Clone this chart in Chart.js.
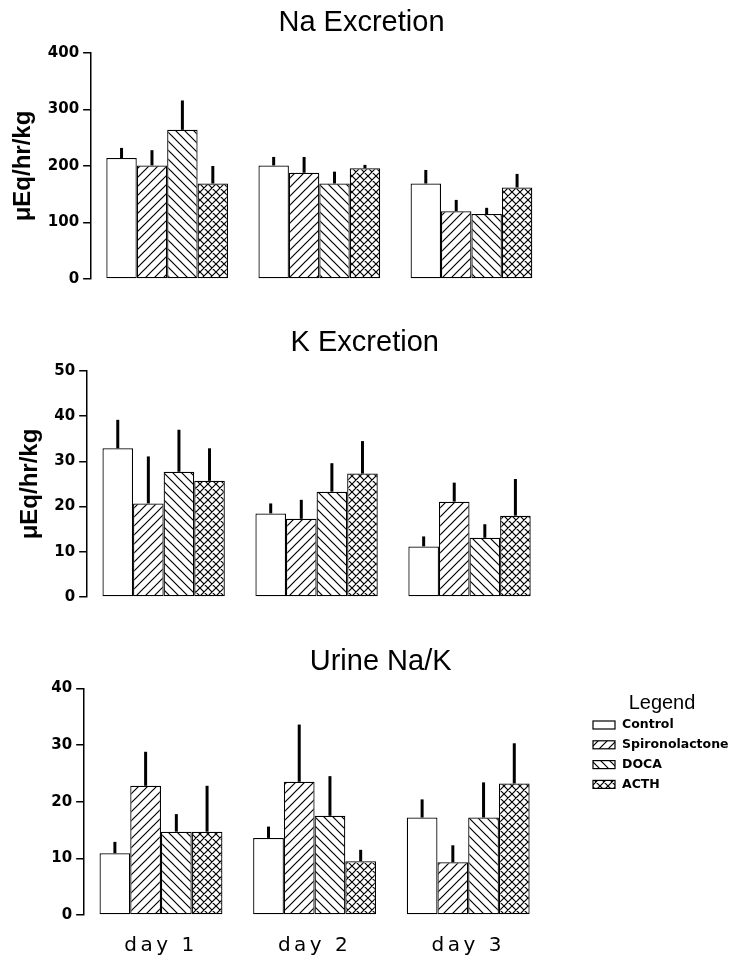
<!DOCTYPE html>
<html>
<head>
<meta charset="utf-8">
<title>Na and K excretion, urine Na/K</title>
<script src="https://cdn.jsdelivr.net/npm/chart.js@4.4.0/dist/chart.umd.min.js"></script>
<style>
  body { margin: 0; background: #fff; overflow: hidden; }
  #figure { position: relative; width: 730px; height: 959px; overflow: hidden; }
  #figure canvas { position: absolute; left: 0; }
</style>
</head>
<body>
<div id="figure">
  <canvas id="naChart" width="730" height="292" style="top:0"></canvas>
  <canvas id="kChart" width="730" height="310" style="top:300px"></canvas>
  <canvas id="ratioChart" width="730" height="367" style="top:610px"></canvas>
</div>
<script>
const days = ['day 1', 'day 2', 'day 3'];
const groups = ['Control', 'Spironolactone', 'DOCA', 'ACTH'];

// Na excretion (µEq/hr/kg), mean and SEM per group
const naControl = [214, 201, 169];
const naSpiro = [201, 188, 120];
const naDoca = [264, 169, 115];
const naActh = [169, 196, 162];
const naControlSem = [18, 15, 24];
const naSpiroSem = [27, 28, 20];
const naDocaSem = [52, 21, 11];
const naActhSem = [31, 6, 24];
const naTicks = [0, 100, 200, 300, 400];

// K excretion (µEq/hr/kg)
const kControl = [32.9, 18.5, 11.2];
const kSpiro = [20.7, 17.3, 21.1];
const kDoca = [27.7, 23.3, 13.1];
const kActh = [25.7, 27.3, 18.0];
const kControlSem = [6.3, 2.2, 2.2];
const kSpiroSem = [10.4, 4.2, 4.2];
const kDocaSem = [9.3, 6.3, 3.0];
const kActhSem = [7.2, 7.2, 8.1];
const kTicks = [0, 10, 20, 30, 40, 50];

// urine Na/K
const ratioControl = [10.9, 13.6, 17.2];
const ratioSpiro = [22.8, 23.5, 9.3];
const ratioDoca = [14.7, 17.5, 17.2];
const ratioActh = [14.7, 9.5, 23.2];
const ratioControlSem = [2.0, 2.0, 3.2];
const ratioSpiroSem = [6.0, 10.1, 3.0];
const ratioDocaSem = [3.1, 7.0, 6.2];
const ratioActhSem = [8.1, 2.0, 7.1];
const ratioTicks = [0, 10, 20, 30, 40];

Chart.defaults.color = '#000';
Chart.defaults.font.family = '"DejaVu Sans", sans-serif';

// hatch fills: '/' , '\' or 'x'
function hatch(kind, size) {
    const c = document.createElement('canvas');
    c.width = size;
    c.height = size;
    const g = c.getContext('2d');
    g.fillStyle = '#fff';
    g.fillRect(0, 0, size, size);
    g.strokeStyle = '#000';
    g.lineWidth = 1.2;
    g.beginPath();
    if (kind === '/' || kind === 'x') {
        g.moveTo(0, size); g.lineTo(size, 0);
        g.moveTo(-1, 1); g.lineTo(1, -1);
        g.moveTo(size - 1, size + 1); g.lineTo(size + 1, size - 1);
    }
    if (kind === '\\' || kind === 'x') {
        g.moveTo(0, 0); g.lineTo(size, size);
        g.moveTo(-1, size - 1); g.lineTo(1, size + 1);
        g.moveTo(size - 1, -1); g.lineTo(size + 1, 1);
    }
    g.stroke();
    return g.createPattern(c, 'repeat');
}

const fills = ['#fff', hatch('/', 9), hatch('\\', 9), hatch('x', 8)];

// upper error bar only, thick black line
const errorBars = {
    id: 'errorBars',
    afterDatasetsDraw(chart) {
        const ctx = chart.ctx;
        const y = chart.scales.y;
        ctx.save();
        ctx.strokeStyle = '#000';
        ctx.lineWidth = 3;
        chart.data.datasets.forEach((ds, i) => {
            chart.getDatasetMeta(i).data.forEach((bar, j) => {
                const top = y.getPixelForValue(ds.data[j] + ds.sem[j]);
                ctx.beginPath();
                ctx.moveTo(bar.x, bar.y);
                ctx.lineTo(bar.x, top);
                ctx.stroke();
            });
        });
        ctx.restore();
    }
};

// legend block drawn from the datasets
const legendBox = {
    id: 'legendBox',
    afterDraw(chart, args, opts) {
        const ctx = chart.ctx;
        ctx.save();
        ctx.fillStyle = '#000';
        ctx.textBaseline = 'middle';
        ctx.textAlign = 'center';
        ctx.font = '20px "Liberation Sans"';
        ctx.fillText(opts.title, opts.titleX, opts.titleY);
        ctx.textAlign = 'left';
        ctx.font = 'bold 12.5px "DejaVu Sans"';
        ctx.lineWidth = 1.2;
        ctx.strokeStyle = '#000';
        chart.data.datasets.forEach((ds, i) => {
            const y = opts.rowY + i * opts.rowGap;
            ctx.fillStyle = ds.backgroundColor;
            ctx.fillRect(opts.boxX, y - 4, 22, 8);
            ctx.strokeRect(opts.boxX, y - 4, 22, 8);
            ctx.fillStyle = '#000';
            ctx.fillText(ds.label, opts.boxX + 29, y);
        });
        ctx.restore();
    }
};

// wider letter spacing for the day labels
const spacedLabels = {
    id: 'spacedLabels',
    afterLayout(chart) {
        const x = chart.scales.x;
        if (x._spaced) return;
        const orig = x.drawLabels;
        x.drawLabels = function(area) {
            this.ctx.save();
            this.ctx.letterSpacing = '3.5px';
            orig.call(this, area);
            this.ctx.restore();
        };
        x._spaced = true;
    }
};

function drawPanel(id, title, means, sems, ticks, yTitle, lay) {
    const datasets = groups.map((g, i) => ({
        label: g,
        data: means[i],
        sem: sems[i],
        backgroundColor: fills[i],
        borderColor: '#000',
        borderWidth: 1.25,
        borderSkipped: false,
        barPercentage: 1,
        categoryPercentage: 0.8
    }));
    const plugins = [errorBars];
    if (lay.legend) plugins.push(legendBox);
    if (lay.showDays) plugins.push(spacedLabels);

    return new Chart(document.getElementById(id), {
        type: 'bar',
        data: { labels: days, datasets: datasets },
        options: {
            responsive: false,
            animation: false,
            layout: { padding: lay.padding },
            plugins: {
                legend: { display: false },
                tooltip: { enabled: false },
                title: {
                    display: true,
                    text: title,
                    color: '#000',
                    font: { family: '"Liberation Sans"', size: 29, weight: 'normal' },
                    padding: lay.titlePadding
                },
                legendBox: lay.legend || {}
            },
            scales: {
                x: {
                    display: !!lay.showDays,
                    grid: { display: false, drawTicks: false },
                    border: { display: false },
                    ticks: {
                        font: { family: '"DejaVu Sans"', size: 20 },
                        padding: 19
                    }
                },
                y: {
                    min: ticks[0],
                    max: ticks[ticks.length - 1],
                    afterBuildTicks: s => { s.ticks = ticks.map(v => ({ value: v })); },
                    ticks: {
                        font: { family: '"DejaVu Sans"', size: 15, weight: 'bold' },
                        padding: 4
                    },
                    grid: {
                        drawOnChartArea: false,
                        drawTicks: true,
                        tickLength: 8,
                        color: '#000',
                        lineWidth: 1.5
                    },
                    border: { display: true, color: '#000', width: 1.5 },
                    title: {
                        display: !!yTitle,
                        text: yTitle,
                        font: { family: '"Liberation Sans"', size: 24, weight: 'bold' },
                        padding: { top: 0, bottom: 6 }
                    }
                },
                // empty right-hand space so the plot area ends where the original does
                spacer: {
                    type: 'linear',
                    position: 'right',
                    grid: { display: false },
                    border: { display: false },
                    ticks: { display: false },
                    afterFit: s => { s.width = lay.rightSpace; }
                }
            }
        },
        plugins: plugins
    });
}

drawPanel('naChart', 'Na Excretion',
    [naControl, naSpiro, naDoca, naActh],
    [naControlSem, naSpiroSem, naDocaSem, naActhSem],
    naTicks, 'μEq/hr/kg', {
        padding: { left: 9, right: 16, top: 0, bottom: 12 },
        titlePadding: { top: 5.9, bottom: 12.3 },
        rightSpace: 166.5
    });

drawPanel('kChart', 'K Excretion',
    [kControl, kSpiro, kDoca, kActh],
    [kControlSem, kSpiroSem, kDocaSem, kActhSem],
    kTicks, 'μEq/hr/kg', {
        padding: { left: 15.5, right: 16, top: 0, bottom: 12.5 },
        titlePadding: { top: 25.9, bottom: 10.3 },
        rightSpace: 168
    });

drawPanel('ratioChart', 'Urine Na/K',
    [ratioControl, ratioSpiro, ratioDoca, ratioActh],
    [ratioControlSem, ratioSpiroSem, ratioDocaSem, ratioActhSem],
    ratioTicks, '', {
        padding: { left: 47.3, right: 16, top: 0, bottom: 0 },
        titlePadding: { top: 34.3, bottom: 9.2 },
        rightSpace: 169,
        showDays: true,
        legend: { title: 'Legend', titleX: 662, titleY: 93, boxX: 593, rowY: 115, rowGap: 19.8 }
    });
</script>
</body>
</html>
